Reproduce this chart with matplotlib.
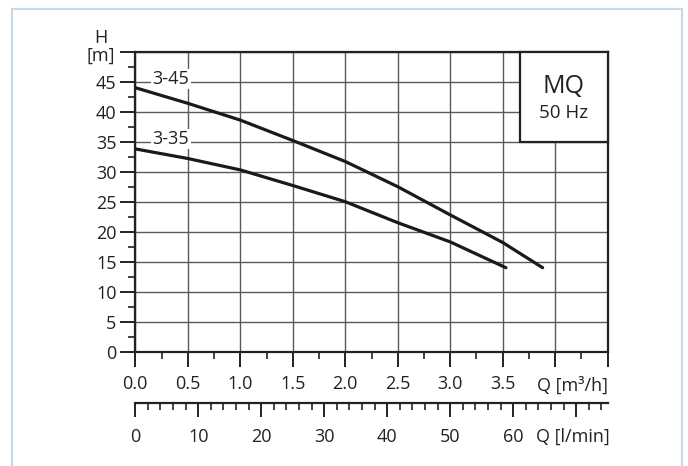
import numpy as np
import matplotlib
matplotlib.use("Agg")
from matplotlib import pyplot as plt
from matplotlib.patches import Rectangle
from matplotlib.ticker import MultipleLocator, FixedLocator, FixedFormatter
import matplotlib.transforms as mtransforms

plt.rcParams['font.family'] = ['Open Sans', 'DejaVu Sans']

# pump curves, Q in m3/h, H in m
q_345 = [0.0, 0.5, 1.0, 1.5, 2.0, 2.5, 3.0, 3.5, 3.88]
h_345 = [44.0, 41.4, 38.6, 35.2, 31.7, 27.5, 22.8, 18.2, 14.0]
q_335 = [0.0, 0.5, 1.0, 1.5, 2.0, 2.5, 3.0, 3.53]
h_335 = [33.8, 32.2, 30.3, 27.7, 25.0, 21.5, 18.3, 14.0]

q_ticks = [0.0, 0.5, 1.0, 1.5, 2.0, 2.5, 3.0, 3.5, 4.0, 4.5]
q_labels = ['0.0', '0.5', '1.0', '1.5', '2.0', '2.5', '3.0', '3.5', '', '']
l_ticks = [0, 10, 20, 30, 40, 50, 60, 70]
l_labels = ['0', '10', '20', '30', '40', '50', '60', '']
h_ticks = [0, 5, 10, 15, 20, 25, 30, 35, 40, 45, 50]
h_labels = ['0', '5', '10', '15', '20', '25', '30', '35', '40', '45', '']

FS = 13
INK = '#222222'
W, H = 688, 466
fig = plt.figure(figsize=(W / 100, H / 100), dpi=100)

# light blue outer frame
fig.patches.append(Rectangle((11.7 / W, -0.05), (682.3 - 11.7) / W, 1.05 - 8.5 / H,
                             transform=fig.transFigure, fill=False,
                             edgecolor='#c8d8e8', lw=1.6))

x0, x1 = 135.3, 607.7
y0, y1 = 351.7, 51.7
ax = fig.add_axes([x0 / W, 1 - y0 / H, (x1 - x0) / W, (y0 - y1) / H])
ax.set_xlim(0, 4.5)
ax.set_ylim(0, 50)

ax.plot(q_345, h_345, color='#1a1a1a', lw=2.3, solid_capstyle='round', zorder=4)
ax.plot(q_335, h_335, color='#1a1a1a', lw=2.3, solid_capstyle='round', zorder=4)

ax.xaxis.set_major_locator(FixedLocator(q_ticks))
ax.xaxis.set_major_formatter(FixedFormatter(q_labels))
ax.xaxis.set_minor_locator(MultipleLocator(0.25))
ax.yaxis.set_major_locator(FixedLocator(h_ticks))
ax.yaxis.set_major_formatter(FixedFormatter(h_labels))
ax.yaxis.set_minor_locator(MultipleLocator(2.5))

ax.grid(True, which='major', color='#5a5a5a', lw=1.0)
for s in ax.spines.values():
    s.set_color(INK)
    s.set_linewidth(1.6)
ax.tick_params(axis='both', which='major', length=10.5, width=1.4, color=INK,
               labelsize=FS, labelcolor=INK)
ax.tick_params(axis='both', which='minor', length=5, width=1.2, color=INK)
ax.tick_params(axis='x', which='major', pad=6)
ax.tick_params(axis='y', which='major', pad=3)

# curve labels with white background over the gridline
for txt, yv in [('3-45', 45), ('3-35', 35)]:
    ax.text(0.34, yv + 0.45, txt, ha='center', va='center', fontsize=FS, color=INK,
            bbox=dict(facecolor='white', edgecolor='none', pad=1.0), zorder=3)

# MQ box
ax.add_patch(Rectangle((3.66, 35), 4.5 - 3.66, 15, facecolor='white',
                       edgecolor=INK, lw=1.6, zorder=5, clip_on=False))
ax.text(4.08, 44.2, 'MQ', ha='center', va='center', fontsize=18, color=INK, zorder=6)
ax.text(4.08, 39.7, '50 Hz', ha='center', va='center', fontsize=13.5, color=INK, zorder=6)

# axis titles
ax.text(-0.0726, 1.016, 'H\n[m]', transform=ax.transAxes, ha='center', va='center',
        fontsize=FS, color=INK, linespacing=1.05)
tr = mtransforms.blended_transform_factory(ax.transData, ax.transAxes)
ax.text(4.16, (y0 - 386) / (y0 - y1), 'Q [m³/h]', transform=tr, ha='center', va='center',
        fontsize=FS, color=INK)

# second Q scale in l/min
ly = 403.0
ax2 = fig.add_axes([x0 / W, 1 - ly / H, (x1 - x0) / W, 0.001])
ax2.set_xlim(0, 75)
ax2.set_ylim(0, 1)
ax2.patch.set_visible(False)
for k in ['top', 'left', 'right']:
    ax2.spines[k].set_visible(False)
ax2.spines['bottom'].set_color(INK)
ax2.spines['bottom'].set_linewidth(1.6)
ax2.set_yticks([])
ax2.xaxis.set_major_locator(FixedLocator(l_ticks))
ax2.xaxis.set_major_formatter(FixedFormatter(l_labels))
ax2.xaxis.set_minor_locator(MultipleLocator(2))
ax2.tick_params(axis='x', which='major', length=10, width=1.4, color=INK,
                labelsize=FS, labelcolor=INK, pad=8)
ax2.tick_params(axis='x', which='minor', length=5, width=1.2, color=INK)
ax2.annotate('Q [l/min]', xy=(69.5, 0), xycoords='data', xytext=(0, -34),
             textcoords='offset pixels', ha='center', va='center',
             fontsize=FS, color=INK)

fig.savefig('out.png', dpi=100)
